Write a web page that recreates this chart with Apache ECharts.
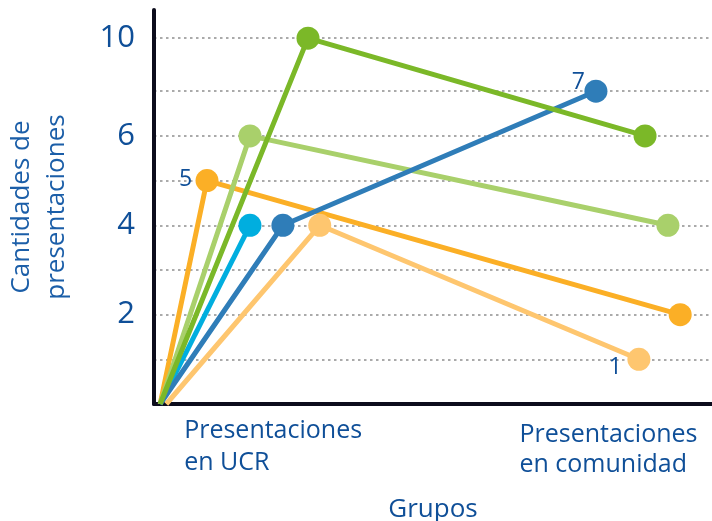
<!DOCTYPE html>
<html>
<head>
<meta charset="utf-8">
<script src="https://cdn.jsdelivr.net/npm/echarts@6/dist/echarts.min.js"></script>
<style>
  html, body { margin: 0; padding: 0; background: #fff; }
  #main { width: 712px; height: 521px; }
</style>
</head>
<body>
<div id="main"></div>
<script>
// Grupos, one line each: origin -> Presentaciones en UCR -> Presentaciones en comunidad
const groupNames = ['Grupo 1', 'Grupo 2', 'Grupo 3', 'Grupo 4', 'Grupo 5', 'Grupo 6'];
const originX = [2.2, 1.1, 1.1, 1.1, 1.1, 1.1];
const ucrX = [29.7, 9.5, 17.2, 17.2, 23.1, 27.6];
const ucrY = [4, 5, 4, 6, 4, 10];
const comX = [86.9, 94.3, null, 92.1, 79.2, 88.0];
const comY = [1, 2, null, 4, 7, 6];
// which point shows its value: 0 none, 1 UCR, 2 comunidad
const labelPoint = [2, 1, 0, 0, 2, 0];

const xCategories = ['Presentaciones\nen UCR', 'Presentaciones\nen comunidad'];
const xLabelAt = [5.4, 65.5];
const yGridValues = [0, 1, 2, 3, 4, 5, 6, 7, 10];
const yTickLabels = [2, 4, 6, 10];

const colors = ['#fec66f', '#fbaf26', '#00aedf', '#a9d06b', '#2f7db8', '#7bb828'];
const labelPos = [[-12, 20], [-10, 10], null, null, [-6, 3], null];
const xLabelStyle = [['u', 'l'], ['c', 'c2']];
const textBlue = '#0f4f98';
const axisColor = '#0c0c1c';
const font = 'Open Sans';

let series = groupNames.map((name, i) => {
    let pts = [
        { value: [originX[i], 0], symbol: 'none' },
        { value: [ucrX[i], ucrY[i]] }
    ];
    if (comX[i] != null) pts.push({ value: [comX[i], comY[i]] });
    if (labelPoint[i]) {
        pts[labelPoint[i]].label = {
            show: true,
            position: labelPos[i],
            align: 'center',
            verticalAlign: 'middle',
            formatter: (p) => String(p.value[1]),
            color: textBlue,
            fontFamily: font,
            fontSize: 23
        };
    }
    return {
        name: name,
        type: 'line',
        data: pts,
        symbol: 'circle',
        symbolSize: 23,
        lineStyle: { width: 5, color: colors[i] },
        itemStyle: { color: colors[i] },
        emphasis: { disabled: true },
        animation: false
    };
});

let options = {
    grid: { left: 154, right: 0, top: 10, bottom: 117, outerBoundsMode: 'none', containLabel: false },
    xAxis: {
        type: 'value',
        min: 0,
        max: 100,
        name: 'Grupos',
        nameLocation: 'middle',
        nameGap: 93,
        nameTextStyle: { color: textBlue, fontFamily: font, fontSize: 26 },
        axisLine: { show: true, lineStyle: { color: axisColor, width: 4 } },
        axisTick: { show: false },
        splitLine: { show: false },
        axisLabel: {
            customValues: xLabelAt,
            formatter: (v) => {
                let k = xLabelAt.indexOf(v);
                if (k < 0) return '';
                let lines = xCategories[k].split('\n');
                return '{' + xLabelStyle[k][0] + '|' + lines[0] + '}\n{' + xLabelStyle[k][1] + '|' + lines[1] + '}';
            },
            align: 'left',
            verticalAlign: 'top',
            margin: 11,
            lineHeight: 32,
            color: textBlue,
            fontFamily: font,
            fontSize: 25,
            rich: {
                u: { lineHeight: 32 },
                l: { lineHeight: 32 },
                c: { lineHeight: 32, padding: [7, 0, 0, 0] },
                c2: { lineHeight: 32, padding: [4, 0, 0, 0] }
            }
        }
    },
    yAxis: [{
        type: 'value',
        min: 0,
        max: 10.63,
        interval: 1,
        breaks: [{ start: 7.1, end: 9.9, gap: '11.2%' }],
        breakArea: { show: false, itemStyle: { opacity: 0 } },
        name: 'Cantidades de\npresentaciones',
        nameLocation: 'middle',
        nameRotate: 90,
        nameGap: 80,
        nameTextStyle: { color: '#1b5ea8', fontFamily: font, fontSize: 26, lineHeight: 35 },
        axisLine: { show: false },
        axisTick: { show: false, customValues: yGridValues },
        axisLabel: {
            customValues: yTickLabels,
            formatter: (v) => String(v),
            margin: 19,
            color: textBlue,
            fontFamily: font,
            fontSize: 31
        },
        splitLine: { show: true, lineStyle: { color: '#aaaaaa', width: 2, type: [2.5, 3.5] } }
    }, {
        // plain unbroken line for the axis itself
        type: 'value',
        min: 0,
        max: 1,
        position: 'left',
        axisLine: { show: true, lineStyle: { color: axisColor, width: 4 } },
        axisTick: { show: false },
        axisLabel: { show: false },
        splitLine: { show: false }
    }],
    series: series
};

let myChart = echarts.init(document.getElementById('main'));
myChart.setOption(options);
</script>
</body>
</html>
